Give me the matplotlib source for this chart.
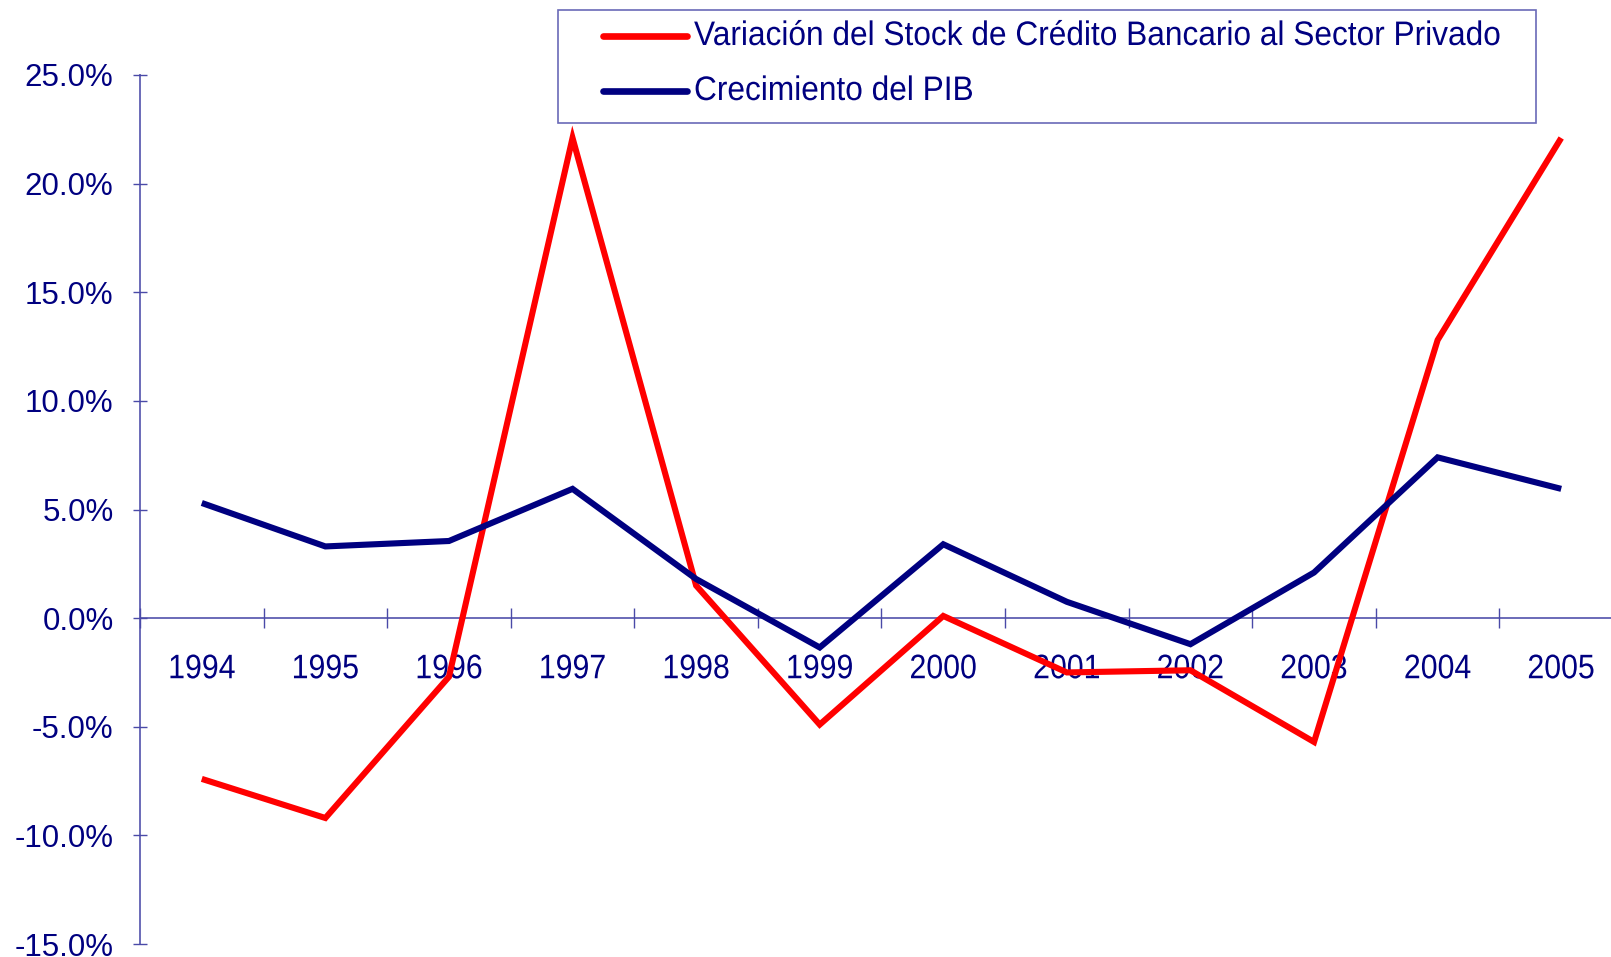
import matplotlib
matplotlib.use("Agg")
import matplotlib.pyplot as plt
from matplotlib.ticker import FixedLocator, FuncFormatter, NullFormatter
from matplotlib.patheffects import AbstractPathEffect
from matplotlib.transforms import Affine2D
from matplotlib.patches import Rectangle
from matplotlib.lines import Line2D
import numpy as np

years = ["1994", "1995", "1996", "1997", "1998", "1999", "2000",
         "2001", "2002", "2003", "2004", "2005"]
credito = [-7.4, -9.2, -2.7, 22.1, 1.5, -4.9, 0.1, -2.5, -2.4, -5.7, 12.8, 22.1]
pib = [5.3, 3.3, 3.55, 5.95, 1.8, -1.35, 3.4, 0.75, -1.2, 2.1, 7.4, 5.95]
yticks = [-15, -10, -5, 0, 5, 10, 15, 20, 25]

label_credito = "Variación del Stock de Crédito Bancario al Sector Privado"
label_pib = "Crecimiento del PIB"

navy = "#000080"
axcol = "#6a6ab8"
tickcol = "#4a4aa8"
red = "#ff0000"


class Condense(AbstractPathEffect):
    """Horizontally condense text glyph paths (mimics a narrow font)."""
    def __init__(self, sx, center=False):
        super().__init__()
        self.sx = sx
        self.center = center

    def draw_path(self, renderer, gc, tpath, affine, rgbFace=None):
        cx = 0.0
        if self.center:
            ext = tpath.get_extents()
            cx = (ext.x0 + ext.x1) / 2
        t = Affine2D().translate(-cx, 0).scale(self.sx, 1).translate(cx, 0)
        renderer.draw_path(gc, tpath, t + affine, rgbFace)


W, H = 1611, 957
fig = plt.figure(figsize=(W / 100, H / 100), dpi=100)
ax = fig.add_axes([140 / W, 1 - 944 / H, (1623 - 140) / W, (944 - 75) / H])

x = np.arange(len(years))
ax.plot(x, credito, color=red, lw=4.4, solid_joinstyle="miter", solid_capstyle="butt", zorder=3)
ax.plot(x, pib, color=navy, lw=4.4, solid_joinstyle="miter", solid_capstyle="butt", zorder=3)

ax.set_xlim(-0.5, len(years) - 0.5)
ax.set_ylim(-15, 25)

for s in ["top", "right"]:
    ax.spines[s].set_visible(False)
for s in ["left", "bottom"]:
    ax.spines[s].set_color(axcol)
    ax.spines[s].set_linewidth(1.4)
    ax.spines[s].set_zorder(1)
ax.spines["bottom"].set_position(("data", 0))

ax.set_yticks(yticks)
ax.yaxis.set_major_formatter(FuncFormatter(lambda v, p: f"{v:.1f}%"))
ax.tick_params(axis="y", direction="inout", length=10, width=1.0, color=tickcol,
               labelcolor=navy, labelsize=22.5, pad=14.0)
for lab in ax.get_yticklabels():
    lab.set_family("Liberation Sans")

ax.xaxis.set_major_locator(FixedLocator(np.arange(-0.5, len(years), 1.0)))
ax.xaxis.set_major_formatter(NullFormatter())
ax.xaxis.set_minor_locator(FixedLocator(x))
ax.set_xticklabels(years, minor=True)
ax.tick_params(axis="x", which="major", direction="inout", length=14.4, width=1.0, color=tickcol)
ax.tick_params(axis="x", which="minor", length=0, pad=26.0, labelcolor=navy, labelsize=24.5)
for lab in ax.get_xticklabels(minor=True):
    lab.set_family("Liberation Sans")
    lab.set_path_effects([Condense(0.89, center=True)])

# Legend box (drawn manually to reproduce the condensed label font)
def fx(px):
    return px / W

def fy(py):
    return 1 - py / H

fig.add_artist(Rectangle((fx(558), fy(123)), fx(1536) - fx(558), fy(10) - fy(123),
                         transform=fig.transFigure, facecolor="white",
                         edgecolor=axcol, linewidth=1.2, zorder=5))
for lab, col, yline, ybase in [(label_credito, red, 36, 45), (label_pib, navy, 91, 100)]:
    fig.add_artist(Line2D([fx(603), fx(687)], [fy(yline), fy(yline)],
                          transform=fig.transFigure, color=col, lw=4.8,
                          solid_capstyle="round", zorder=6))
    t = fig.text(fx(694), fy(ybase), lab, color=navy, fontsize=24.5,
                 family="Liberation Sans", ha="left", va="baseline", zorder=6)
    t.set_path_effects([Condense(0.93)])

fig.savefig("out.png", dpi=100)
